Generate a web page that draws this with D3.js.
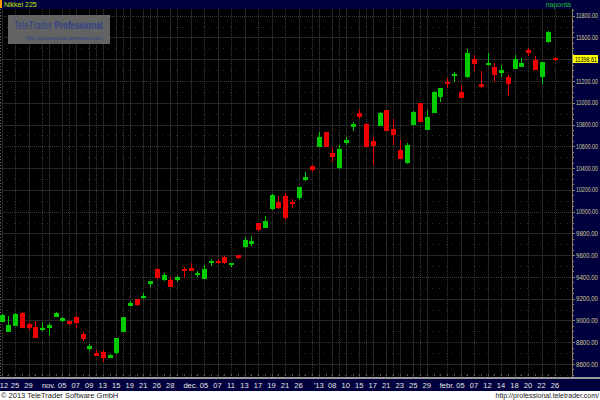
<!DOCTYPE html>
<html>
<head>
<meta charset="utf-8">
<script src="https://cdn.jsdelivr.net/npm/d3@7"></script>
<style>
  body { margin: 0; background: #fff; }
  svg { display: block; }
  text { font-family: "Liberation Sans", Arial, sans-serif; }
</style>
</head>
<body>
<svg id="chart" width="600" height="400"></svg>
<script>
// trading days, Oct 2012 - Feb 2013
const octDays = [23, 24, 25, 26, 29, 30, 31];
const novDays = [1, 2, 5, 6, 7, 8, 9, 12, 13, 14, 15, 16, 19, 20, 21, 22, 26, 27, 28, 29, 30];
const decDays = [3, 4, 5, 6, 7, 10, 11, 12, 13, 14, 17, 18, 19, 20, 21, 25, 26, 27, 28];
const janDays = [4, 7, 8, 9, 10, 11, 15, 16, 17, 18, 21, 22, 23, 24, 25, 28, 29, 30, 31];
const febDays = [1, 4, 5, 6, 7, 8, 12, 13, 14, 15, 18, 19, 20, 21, 22, 25, 26];

const open = [
  8990, 8897, 8949, 9066, 8965, 8943, 8912, 8928, 9034, 8998,
  8992, 9034, 8873, 8735, 8704, 8713, 8658, 8704, 8897, 9136,
  9194, 9213, 9335, 9470, 9372, 9372, 9372, 9470, 9485, 9418,
  9381, 9525, 9546, 9586, 9509, 9601, 9678, 9700, 9898, 9847,
  10021, 10091, 10143, 10091, 10122, 10290, 10419, 10597, 10734, 10541,
  10398, 10627, 10780, 10909, 10802, 10652, 10786, 10933, 10756, 10566,
  10444, 10796, 10995, 10750, 10909, 11056, 11194, 11249, 11096, 11234,
  11399, 11172, 11347, 11331, 11271, 11234, 11310, 11331, 11485, 11393,
  11239, 11555, 11414
];
const high = [
  9060, 9041, 9065, 9078, 8989, 8995, 8989, 8974, 9078, 9034,
  8995, 9040, 8897, 8781, 8729, 8729, 8689, 8836, 9035, 9177,
  9200, 9249, 9366, 9479, 9439, 9402, 9408, 9488, 9525, 9457,
  9509, 9565, 9565, 9590, 9528, 9605, 9764, 9776, 9900, 9960,
  10158, 10143, 10174, 10113, 10226, 10367, 10428, 10734, 10736, 10597,
  10612, 10683, 10820, 10943, 10811, 10688, 10918, 10935, 10848, 10658,
  10633, 10927, 10997, 10933, 11111, 11133, 11225, 11280, 11163, 11491,
  11439, 11294, 11460, 11362, 11347, 11255, 11439, 11408, 11500, 11430,
  11377, 11662, 11423
];
const low = [
  8985, 8890, 8945, 8930, 8912, 8835, 8906, 8866, 9030, 8983,
  8961, 8928, 8814, 8722, 8676, 8621, 8652, 8692, 8890, 9130,
  9130, 9194, 9304, 9385, 9362, 9304, 9356, 9387, 9450, 9402,
  9378, 9503, 9522, 9519, 9488, 9562, 9668, 9687, 9825, 9845,
  10015, 10028, 9923, 10030, 10107, 10284, 10367, 10595, 10595, 10458,
  10396, 10612, 10743, 10848, 10591, 10428, 10784, 10743, 10612, 10483,
  10442, 10794, 10826, 10748, 10907, 11004, 11138, 11194, 11046, 11232,
  11294, 11133, 11340, 11194, 11234, 11062, 11308, 11329, 11432, 11301,
  11172, 11553, 11386
];
const close = [
  9050, 8958, 9059, 8933, 8928, 8842, 8928, 8961, 9066, 9019,
  8967, 8974, 8830, 8765, 8676, 8658, 8680, 8836, 9029, 9163,
  9142, 9225, 9362, 9387, 9418, 9310, 9396, 9457, 9454, 9433,
  9470, 9546, 9525, 9531, 9525, 9577, 9739, 9733, 9831, 9917,
  10153, 10030, 9938, 10070, 10223, 10321, 10382, 10682, 10597, 10499,
  10575, 10658, 10802, 10872, 10597, 10605, 10909, 10743, 10704, 10483,
  10612, 10918, 10826, 10866, 11102, 11133, 11179, 11265, 11046, 11454,
  11353, 11147, 11362, 11255, 11301, 11172, 11399, 11368, 11454, 11301,
  11377, 11653, 11398.61
];

// x-axis labels: index of trading day and its text
const labelIdx = [0, 2, 4, 7, 9, 11, 13, 15, 17, 19, 21, 23, 25, 28, 30, 32, 34, 36, 38, 40, 42, 44,
                  47, 49, 51, 53, 55, 57, 59, 61, 63, 66, 68, 70, 72, 74, 76, 78, 80, 82];
const labelText = ["12", "25", "29", "nov.", "05", "07", "09", "13", "15", "19", "21", "26", "28",
                   "dec.", "05", "07", "11", "13", "17", "19", "21", "26",
                   "'13", "08", "10", "15", "17", "21", "23", "25", "29",
                   "febr.", "05", "07", "12", "14", "18", "20", "22", "26"];
const yTicks = d3.range(8600, 11801, 200);

const dates = [].concat(
  octDays.map(d => `2012-10-${d}`), novDays.map(d => `2012-11-${d}`),
  decDays.map(d => `2012-12-${d}`), janDays.map(d => `2013-01-${d}`),
  febDays.map(d => `2013-02-${d}`));
const data = dates.map((d, i) => ({ date: d, o: open[i], h: high[i], l: low[i], c: close[i] }));

const navy = "#00003f";
const plotRight = 572, plotTop = 9, plotBottom = 377;

const svg = d3.select("#chart");
const x = d3.scalePoint().domain(dates).range([1.5, 555]);
const y = d3.scaleLinear().domain([8600, 11800]).range([364, 15.7]);
const px = v => Math.round(v) + 0.5;

// squeeze a start-anchored text horizontally so it is `width` px wide
function squeeze(sel, x0, y0, width) {
  sel.each(function(d, i) {
    const w = this.getComputedTextLength();
    const yy = typeof y0 === "function" ? y0(d, i) : y0;
    d3.select(this).attr("x", 0).attr("y", 0)
      .attr("transform", `translate(${x0},${yy}) scale(${width / w},1)`);
  });
}

// plot background
svg.append("rect").attr("x", 0).attr("y", plotTop).attr("width", plotRight).attr("height", plotBottom - plotTop)
  .attr("fill", "#000");

const grid = svg.append("g").attr("shape-rendering", "crispEdges");

// minor dotted rows every 100
grid.selectAll("line.minor").data(d3.range(8500, 11801, 200)).join("line")
  .attr("x1", 0).attr("x2", plotRight)
  .attr("y1", d => px(y(d))).attr("y2", d => px(y(d)))
  .attr("stroke", "#2c2c2c").attr("stroke-dasharray", "1 5.75");

// horizontal lines every 200, dotted every 600
grid.selectAll("line.h").data(yTicks).join("line")
  .attr("x1", 0).attr("x2", plotRight)
  .attr("y1", d => px(y(d))).attr("y2", d => px(y(d)))
  .attr("stroke", d => (d - 8800) % 600 === 0 ? "#3a3a3a" : "#262626")
  .attr("stroke-dasharray", d => (d - 8800) % 600 === 0 ? "1 1" : null);

// vertical lines at labelled days, dotted every 4th day
const vIdx = d3.range(2, dates.length, 4);
grid.selectAll("line.v").data(labelIdx.filter(i => i % 4 !== 2)).join("line")
  .attr("x1", i => px(x(dates[i]))).attr("x2", i => px(x(dates[i])))
  .attr("y1", plotTop).attr("y2", plotBottom)
  .attr("stroke", "#262626");
grid.selectAll("line.vd").data(vIdx).join("line")
  .attr("x1", i => px(x(dates[i]))).attr("x2", i => px(x(dates[i])))
  .attr("y1", plotTop).attr("y2", plotBottom)
  .attr("stroke", "#3a3a3a").attr("stroke-dasharray", "1 1");

// left edge dotted axis
grid.append("line").attr("x1", 0.5).attr("x2", 0.5).attr("y1", plotTop).attr("y2", plotBottom)
  .attr("stroke", "#666").attr("stroke-dasharray", "1 2");

// bottom ticks
grid.selectAll("rect.tick").data(dates).join("rect")
  .attr("x", d => Math.round(x(d))).attr("y", 374)
  .attr("width", 1).attr("height", 2).attr("fill", "#555");

// watermark
const wm = svg.append("g");
wm.append("rect").attr("x", 8).attr("y", 15).attr("width", 102).attr("height", 29)
  .attr("fill", "#636363");
const wmText = wm.append("text")
  .attr("font-family", "'Open Sans', sans-serif").attr("font-size", 11.5).attr("fill", "#2f418a");
wmText.append("tspan").text("TeleTrader ");
wmText.append("tspan").attr("font-weight", "bold").text("Professional");
squeeze(wmText, 14, 29, 89);
const wmUrl = wm.append("text")
  .attr("font-size", 5.5).attr("fill", "#2f418a")
  .text("http://professional.teletrader.com/");
squeeze(wmUrl, 26, 40, 77);

// candles
const candles = svg.append("g").attr("shape-rendering", "crispEdges")
  .selectAll("g").data(data).join("g")
  .attr("fill", d => d.c >= d.o ? "#00cc00" : "#ee0000");
candles.append("rect")
  .attr("x", d => Math.round(x(d.date)))
  .attr("y", d => Math.round(y(d.h)))
  .attr("width", 1)
  .attr("height", d => Math.max(1, Math.round(y(d.l)) - Math.round(y(d.h))));
candles.append("rect")
  .attr("x", d => Math.round(x(d.date)) - 2)
  .attr("y", d => Math.round(y(Math.max(d.o, d.c))))
  .attr("width", 5)
  .attr("height", d => Math.max(2, Math.round(y(Math.min(d.o, d.c))) - Math.round(y(Math.max(d.o, d.c)))));

// right axis panel
svg.append("rect").attr("x", plotRight).attr("y", plotTop).attr("width", 600 - plotRight).attr("height", 380 - plotTop)
  .attr("fill", navy);
svg.append("line").attr("x1", plotRight + 0.5).attr("x2", plotRight + 0.5).attr("y1", plotTop).attr("y2", 380)
  .attr("stroke", "#8c8660").attr("shape-rendering", "crispEdges");
svg.append("g").attr("shape-rendering", "crispEdges")
  .selectAll("line").data(d3.range(8450, 11900, 50)).join("line")
  .attr("x1", plotRight).attr("x2", d => d % 200 === 0 ? plotRight + 3 : plotRight + 2)
  .attr("y1", d => px(y(d))).attr("y2", d => px(y(d)))
  .attr("stroke", "#8c8660");
const yLabels = svg.append("g").selectAll("text").data(yTicks).join("text")
  .attr("dy", "0.35em")
  .attr("font-size", 7.5).attr("fill", "#d6cf98")
  .text(d => d3.format(".2f")(d));
squeeze(yLabels, 576, d => y(d), 22);

// current price box
const last = data[data.length - 1];
svg.append("rect").attr("x", 573).attr("y", Math.round(y(last.c)) - 4).attr("width", 25).attr("height", 8)
  .attr("fill", "#ffff00");
const lastLabel = svg.append("text").attr("dy", "0.35em")
  .attr("font-size", 7.5).attr("fill", "#000")
  .text(d3.format(".2f")(last.c));
squeeze(lastLabel, 575, y(last.c), 22);

// x axis band
svg.append("rect").attr("x", 0).attr("y", 377).attr("width", 600).attr("height", 2).attr("fill", "#9a9a9a");
svg.append("rect").attr("x", 0).attr("y", 379).attr("width", 600).attr("height", 12).attr("fill", navy);
svg.append("g").selectAll("text").data(labelIdx).join("text")
  .attr("x", i => Math.max(x(dates[i]), 4))
  .attr("y", 388)
  .attr("text-anchor", "middle")
  .attr("font-size", 7.5).attr("fill", "#e6e6e6")
  .text((i, k) => labelText[k]);

// header
svg.append("rect").attr("x", 0).attr("y", 0).attr("width", 600).attr("height", plotTop).attr("fill", navy);
svg.append("rect").attr("x", 0).attr("y", 0).attr("width", 2).attr("height", 8).attr("fill", "#ff9900");
svg.append("text").attr("x", 4).attr("y", 7).attr("font-size", 7).attr("fill", "#c4e800").text("Nikkei 225");
svg.append("text").attr("x", 571).attr("y", 7).attr("text-anchor", "end").attr("font-size", 7)
  .attr("fill", "#1fbf3a").text("naponta");

// footer
svg.append("text").attr("x", 1).attr("y", 398).attr("font-size", 7.5).attr("fill", "#222")
  .text("© 2013 TeleTrader Software GmbH");
svg.append("text").attr("x", 599).attr("y", 398).attr("text-anchor", "end").attr("font-size", 7)
  .attr("fill", "#222").text("http://professional.teletrader.com/");
</script>
</body>
</html>
